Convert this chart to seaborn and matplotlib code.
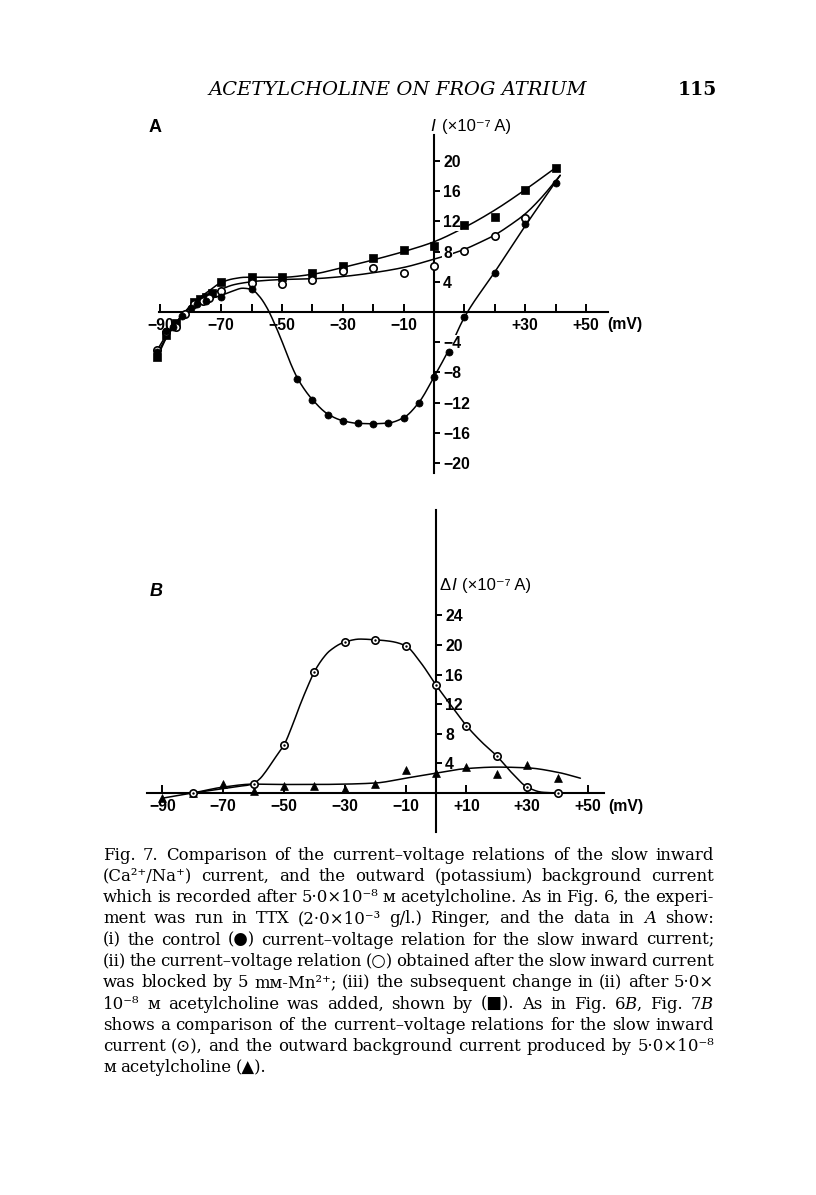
import numpy as np
import matplotlib
matplotlib.use("Agg")
import matplotlib.pyplot as plt
import seaborn as sns

# ---- data (panel A) ----
# control, filled circles
ctrl_x = [-91, -88, -86, -83, -80, -78, -75, -70, -60, -45, -40, -35, -30, -25, -20, -15, -10, -5, 0, 5, 10, 20, 30, 40]
ctrl_y = [-5.3, -2.5, -2.0, -0.5, 0.5, 1.0, 1.4, 2.0, 3.0, -8.9, -11.7, -13.6, -14.4, -14.7, -14.8, -14.7, -14.0, -12.1, -8.6, -5.3, -0.7, 5.2, 11.7, 17.1]
# Mn blocked, open circles
mn_x = [-91, -88, -85, -82, -79, -76, -74, -70, -60, -50, -40, -30, -20, -10, 0, 10, 20, 30]
mn_y = [-5.0, -2.6, -2.0, -0.3, 1.0, 1.4, 1.8, 2.8, 3.9, 3.7, 4.3, 5.4, 5.8, 5.2, 6.1, 8.1, 10.1, 12.5]
# after acetylcholine, filled squares
ach_x = [-91, -88, -85, -79, -77, -75, -73, -70, -60, -50, -40, -30, -20, -10, 0, 10, 20, 30, 40]
ach_y = [-5.9, -3.0, -1.5, 1.3, 1.7, 2.0, 2.5, 4.0, 4.6, 4.6, 5.2, 6.1, 7.1, 8.2, 8.8, 11.5, 12.6, 16.2, 19.1]

# hand drawn curves (anchor points)
ctrl_cx = [-91, -88, -85, -82, -78, -74, -70, -66, -63, -60, -57.5, -55, -52.5, -50, -47.5, -45, -42, -40, -35, -30, -25, -20, -15, -10, -5, 0, 5, 10, 20, 30, 41.5]
ctrl_cy = [-5.5, -3.3, -1.6, 0, 1.0, 1.7, 2.2, 2.8, 3.15, 3.0, 2.1, 0.6, -1.5, -3.9, -6.5, -8.7, -10.6, -11.6, -13.5, -14.4, -14.75, -14.8, -14.7, -14.0, -12.0, -8.6, -4.9, -0.7, 5.3, 11.4, 18.1]
mn_cx = [-91, -88, -85, -82, -78, -74, -70, -66, -62, -58, -50, -40, -30, -20, -10, 0, 5, 10, 15, 20, 25, 30, 35, 41.5]
mn_cy = [-5.0, -3.0, -1.5, 0, 1.3, 2.2, 3.0, 3.6, 3.9, 4.1, 4.3, 4.4, 4.7, 5.2, 5.9, 7.0, 7.6, 8.3, 9.2, 10.2, 11.5, 13.0, 15.0, 18.1]
ach_cx = [-91, -88, -85, -82, -78, -74, -70, -66, -62, -55, -50, -40, -30, -20, -10, 0, 10, 20, 30, 40]
ach_cy = [-6.0, -3.4, -1.6, 0, 1.6, 2.8, 3.9, 4.4, 4.6, 4.6, 4.6, 5.0, 5.9, 6.9, 8.0, 9.3, 11.2, 13.5, 16.2, 19.1]

# ---- data (panel B) ----
slow_x = [-80, -60, -50, -40, -30, -20, -10, 0, 10, 20, 30, 40]
slow_y = [0, 1.2, 6.5, 16.4, 20.4, 20.7, 19.9, 14.6, 9.1, 5.0, 0.8, 0]
bg_x = [-90, -80, -70, -60, -50, -40, -30, -20, -10, 0, 10, 20, 30, 40]
bg_y = [-0.7, 0, 1.2, 0.3, 0.9, 1.0, 0.5, 1.2, 3.1, 2.7, 3.5, 2.6, 3.8, 2.0]

slow_cx = [-80, -75, -70, -65, -62, -60, -58, -56, -54, -52, -50, -47, -45, -42, -40, -37, -35, -30, -25, -20, -15, -10, -5, 0, 5, 10, 15, 20, 25, 30, 35, 40]
slow_cy = [0, 0.3, 0.6, 0.9, 1.05, 1.3, 1.9, 2.9, 4.1, 5.3, 6.5, 9.4, 11.6, 14.6, 16.4, 18.3, 19.2, 20.4, 20.8, 20.7, 20.5, 19.9, 17.6, 14.6, 11.8, 9.1, 6.9, 5.0, 2.7, 0.8, 0.1, 0]
bg_cx = [-90, -80, -70, -60, -50, -40, -30, -20, -10, 0, 10, 20, 30, 40, 47.5]
bg_cy = [-0.7, 0.0, 0.8, 1.2, 1.15, 1.15, 1.2, 1.35, 2.0, 2.7, 3.3, 3.5, 3.4, 2.8, 2.0]

# ticks
a_xmajor = [-90, -70, -50, -30, -10, 30, 50]
a_xminor = [-80, -60, -40, -20, 10, 20, 40]
a_yticks = [-20, -16, -12, -8, -4, 4, 8, 12, 16, 20]
b_xmajor = [-90, -70, -50, -30, -10, 10, 30, 50]
b_yticks = [4, 8, 12, 16, 20, 24]

caption = [
    "Fig. 7. Comparison of the current\u2013voltage relations of the slow inward",
    "(Ca\u00b2\u207a/Na\u207a) current, and the outward (potassium) background current",
    "which is recorded after 5\u00b70\u00d710\u207b\u2078 \u1d0d acetylcholine. As in Fig. 6, the experi-",
    "ment was run in TTX (2\u00b70\u00d710\u207b\u00b3 g/l.) Ringer, and the data in $\\mathit{A}$ show:",
    "(i) the control (\u25cf) current\u2013voltage relation for the slow inward current;",
    "(ii) the current\u2013voltage relation (\u25cb) obtained after the slow inward current",
    "was blocked by 5 m\u1d0d-Mn\u00b2\u207a; (iii) the subsequent change in (ii) after 5\u00b70\u00d7",
    "10\u207b\u2078 \u1d0d acetylcholine was added, shown by (\u25a0). As in Fig. 6$\\mathit{B}$, Fig. 7$\\mathit{B}$",
    "shows a comparison of the current\u2013voltage relations for the slow inward",
    "current (\u2299), and the outward background current produced by 5\u00b70\u00d710\u207b\u2078",
    "\u1d0d acetylcholine (\u25b2).",
]


def smooth(xk, yk, n=400):
    # monotone cubic through the anchor points so the curve looks hand drawn
    xk = np.asarray(xk, float)
    yk = np.asarray(yk, float)
    h = np.diff(xk)
    d = np.diff(yk) / h
    m = np.zeros_like(yk)
    m[0], m[-1] = d[0], d[-1]
    for k in range(1, len(xk) - 1):
        if d[k - 1] * d[k] > 0:
            w1 = 2 * h[k] + h[k - 1]
            w2 = h[k] + 2 * h[k - 1]
            m[k] = (w1 + w2) / (w1 / d[k - 1] + w2 / d[k])
    xs = np.linspace(xk[0], xk[-1], n)
    i = np.clip(np.searchsorted(xk, xs) - 1, 0, len(xk) - 2)
    t = (xs - xk[i]) / h[i]
    ys = ((2 * t**3 - 3 * t**2 + 1) * yk[i] + (t**3 - 2 * t**2 + t) * h[i] * m[i]
          + (-2 * t**3 + 3 * t**2) * yk[i + 1] + (t**3 - t**2) * h[i] * m[i + 1])
    return xs, ys


sns.set_style("white")
plt.rcParams["font.family"] = ["Liberation Sans", "DejaVu Sans"]
plt.rcParams["mathtext.fontset"] = "dejavuserif"
plt.rcParams["text.color"] = "black"
plt.rcParams["xtick.color"] = "black"
plt.rcParams["ytick.color"] = "black"

W, H = 816, 1195
fig = plt.figure(figsize=(W / 100, H / 100), dpi=100)


def make_axes(ox, oy, sx, sy, xlim, ylim):
    left = ox + xlim[0] * sx
    right = ox + xlim[1] * sx
    top = oy - ylim[1] * sy
    bottom = oy - ylim[0] * sy
    ax = fig.add_axes([left / W, 1 - bottom / H, (right - left) / W, (bottom - top) / H])
    ax.set_xlim(xlim)
    ax.set_ylim(ylim)
    ax.patch.set_alpha(0)
    ax.set_axisbelow(False)
    for s in ["left", "top"]:
        ax.spines[s].set_visible(False)
    ax.spines["bottom"].set_position(("data", 0))
    ax.spines["right"].set_position(("data", 0))
    for s in ["bottom", "right"]:
        ax.spines[s].set_linewidth(1.5)
        ax.spines[s].set_color("black")
    ax.yaxis.set_ticks_position("right")
    ax.xaxis.set_ticks_position("bottom")
    ax.tick_params(axis="x", which="both", direction="in", length=5.5, width=1.4, pad=4,
                   labelsize=11.3, colors="black")
    ax.tick_params(axis="y", which="both", direction="out", length=4.5, width=1.4, pad=2,
                   labelsize=11.3, colors="black")
    return ax


def fmt(v):
    if v < 0:
        return "\u2212%d" % abs(v)
    return "%d" % v


def fmt_x(v):
    if v < 0:
        return "\u2212%d" % abs(v)
    return "+%d" % v


def circle_open(ax, x, y, dot=False):
    sns.scatterplot(x=x, y=y, ax=ax, marker="o", s=28, facecolor="white",
                    edgecolor="black", linewidth=1.2, zorder=4)
    if dot:
        sns.scatterplot(x=x, y=y, ax=ax, marker="o", s=3, color="black",
                        edgecolor="black", linewidth=0, zorder=5)


# ---------------- panel A ----------------
axA = make_axes(434, 312, 3.04, 7.55, (-93, 62), (-23, 25))
axA.spines["bottom"].set_bounds(-90.5, 57.2)
axA.spines["right"].set_bounds(-21.3, 23.4)

for cx, cy in [(ctrl_cx, ctrl_cy), (mn_cx, mn_cy), (ach_cx, ach_cy)]:
    xs, ys = smooth(cx, cy)
    sns.lineplot(x=xs, y=ys, ax=axA, color="black", linewidth=1.1, sort=False,
                 estimator=None, zorder=2)

sns.scatterplot(x=ach_x, y=ach_y, ax=axA, marker="s", s=30, color="black",
                edgecolor="black", linewidth=0.5, zorder=4)
circle_open(axA, mn_x, mn_y)
sns.scatterplot(x=ctrl_x, y=ctrl_y, ax=axA, marker="o", s=26, color="black",
                edgecolor="black", linewidth=0.5, zorder=5)

axA.set_xticks(a_xmajor)
axA.set_xticklabels([fmt_x(v) for v in a_xmajor], fontweight="bold")
axA.set_xticks(a_xminor, minor=True)
axA.set_yticks(a_yticks)
axA.set_yticklabels([fmt(v) for v in a_yticks], fontweight="bold")
for lab in axA.get_yticklabels():
    lab.set_bbox(dict(facecolor="white", edgecolor="none", pad=0.6))

axA.text(-1.2, 24.6, "I", fontsize=12.5, style="italic", ha="left", va="center")
axA.text(2.6, 24.6, "(\u00d710\u207b\u2077 A)", fontsize=12, ha="left", va="center")
axA.text(62.8, -1.7, "(mV)", fontsize=11.3, fontweight="bold", ha="center", va="center")

# ---------------- panel B ----------------
axB = make_axes(436, 793, 3.04, 7.4, (-97, 62), (-6, 39))
axB.spines["bottom"].set_bounds(-95, 55.3)
axB.spines["right"].set_bounds(-5.3, 38.2)

for cx, cy in [(slow_cx, slow_cy), (bg_cx, bg_cy)]:
    xs, ys = smooth(cx, cy)
    sns.lineplot(x=xs, y=ys, ax=axB, color="black", linewidth=1.1, sort=False,
                 estimator=None, zorder=2)

sns.scatterplot(x=bg_x, y=bg_y, ax=axB, marker="^", s=32, color="black",
                edgecolor="black", linewidth=0.5, zorder=4)
circle_open(axB, slow_x, slow_y, dot=True)

axB.set_xticks(b_xmajor)
axB.set_xticklabels([fmt_x(v) for v in b_xmajor], fontweight="bold")
axB.set_yticks(b_yticks)
axB.set_yticklabels([fmt(v) for v in b_yticks], fontweight="bold")
axB.get_xticklabels()[0].set_y(-0.012)

axB.text(1.3, 28.0, "\u0394", fontsize=12, ha="left", va="center")
axB.text(5.0, 28.0, "I", fontsize=12.5, style="italic", ha="left", va="center")
axB.text(8.6, 28.0, "(\u00d710\u207b\u2077 A)", fontsize=12, ha="left", va="center")
axB.text(62.5, -1.8, "(mV)", fontsize=11.3, fontweight="bold", ha="center", va="center")

# ---------------- page text ----------------
fig.text(155 / W, 1 - 127 / H, "A", fontsize=13, fontweight="bold", ha="center", va="center")
fig.text(156 / W, 1 - 592 / H, "B", fontsize=13, fontweight="bold", style="italic",
         ha="center", va="center")

fig.text(398 / W, 1 - 90 / H, "ACETYLCHOLINE ON FROG ATRIUM", family="DejaVu Serif",
         style="italic", fontsize=14, ha="center", va="center")
fig.text(697 / W, 1 - 90 / H, "115", family="DejaVu Serif", fontsize=13.5,
         fontweight="bold", ha="center", va="center")

# caption, justified line by line
renderer = fig.canvas.get_renderer()
cap_left, cap_right = 103, 714
for k, line in enumerate(caption):
    y = 1 - (855 + k * 21.3) / H
    words = line.split(" ")
    texts = [fig.text(0, y, w, family=["DejaVu Serif", "DejaVu Sans"], fontsize=11.9,
                      ha="left", va="center") for w in words]
    widths = [t.get_window_extent(renderer).width for t in texts]
    if k == len(caption) - 1 or len(words) == 1:
        gap = 4.5
    else:
        gap = (cap_right - cap_left - sum(widths)) / (len(words) - 1)
    x = cap_left
    for t, w in zip(texts, widths):
        t.set_x(x / W)
        x += w + gap

fig.savefig("out.png", dpi=100)
